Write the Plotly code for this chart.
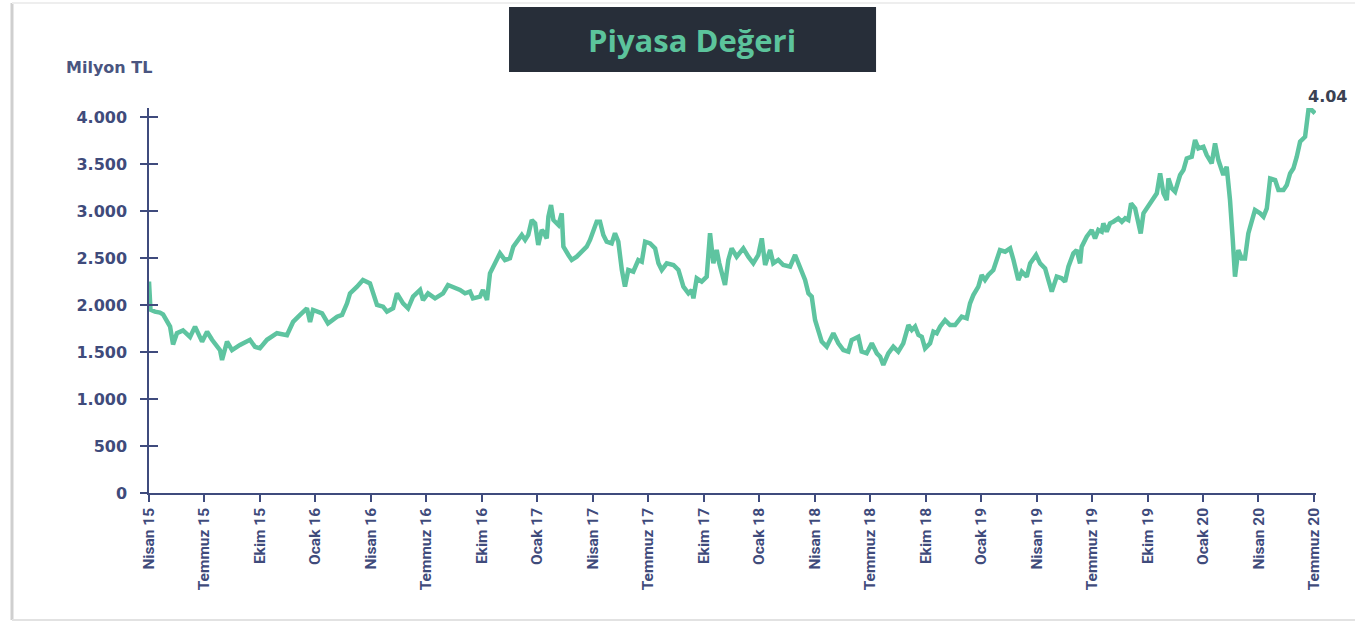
import plotly.graph_objects as go

# Quarter tick labels (month offsets from April 2015)
quarter_labels = [
    "Nisan 15", "Temmuz 15", "Ekim 15", "Ocak 16", "Nisan 16", "Temmuz 16",
    "Ekim 16", "Ocak 17", "Nisan 17", "Temmuz 17", "Ekim 17", "Ocak 18",
    "Nisan 18", "Temmuz 18", "Ekim 18", "Ocak 19", "Nisan 19", "Temmuz 19",
    "Ekim 19", "Ocak 20", "Nisan 20", "Temmuz 20",
]
quarter_months = [3 * i for i in range(len(quarter_labels))]

y_tick_values = [0, 500, 1000, 1500, 2000, 2500, 3000, 3500, 4000]
y_tick_labels = ["0", "500", "1.000", "1.500", "2.000", "2.500", "3.000", "3.500", "4.000"]

# Market value series: month offset from April 2015 and value in million TL
months_since_apr15 = [
    0.00, 0.08, 0.32, 0.59, 0.76, 1.14, 1.30, 1.51, 1.84, 2.22, 2.49, 2.87,
    3.14, 3.41, 3.84, 3.95, 4.22, 4.49, 4.92, 5.46, 5.73, 6.00, 6.38, 6.92,
    7.46, 7.79, 8.17, 8.54, 8.71, 8.87, 9.36, 9.68, 10.17, 10.44, 10.71, 10.87,
    11.25, 11.57, 11.95, 12.11, 12.33, 12.66, 12.87, 13.20, 13.41, 13.74, 14.01, 14.28,
    14.66, 14.82, 15.09, 15.47, 15.90, 16.17, 16.82, 17.09, 17.36, 17.52, 17.90, 18.06,
    18.28, 18.44, 18.71, 18.98, 19.25, 19.52, 19.70, 19.97, 20.16, 20.34, 20.51, 20.70,
    20.88, 21.05, 21.24, 21.33, 21.51, 21.60, 21.74, 21.87, 22.14, 22.32, 22.41, 22.68,
    22.86, 23.13, 23.40, 23.67, 23.85, 24.03, 24.21, 24.39, 24.57, 24.75, 25.02, 25.20,
    25.38, 25.57, 25.74, 25.92, 26.19, 26.46, 26.65, 26.83, 27.10, 27.37, 27.55, 27.73,
    28.00, 28.36, 28.63, 28.90, 29.17, 29.35, 29.44, 29.62, 29.89, 30.16, 30.34, 30.52,
    30.70, 30.84, 31.15, 31.33, 31.51, 31.78, 32.14, 32.41, 32.68, 32.95, 33.14, 33.32,
    33.59, 33.76, 34.03, 34.30, 34.67, 34.94, 35.21, 35.48, 35.66, 35.84, 36.02, 36.20,
    36.38, 36.65, 37.01, 37.28, 37.55, 37.82, 38.00, 38.36, 38.54, 38.81, 39.09, 39.36,
    39.54, 39.71, 39.98, 40.25, 40.52, 40.79, 41.07, 41.25, 41.43, 41.61, 41.79, 41.97,
    42.24, 42.42, 42.60, 42.78, 43.05, 43.32, 43.59, 43.95, 44.22, 44.40, 44.58, 44.85,
    45.03, 45.21, 45.39, 45.66, 45.85, 46.02, 46.30, 46.57, 46.75, 47.01, 47.20, 47.47,
    47.65, 47.97, 48.19, 48.46, 48.64, 48.82, 49.09, 49.36, 49.54, 49.72, 49.99, 50.17,
    50.35, 50.44, 50.71, 50.98, 51.16, 51.34, 51.52, 51.61, 51.79, 51.97, 52.15, 52.42,
    52.61, 52.79, 52.96, 53.11, 53.33, 53.50, 53.63, 53.78, 53.96, 54.23, 54.50, 54.68,
    54.86, 55.04, 55.13, 55.31, 55.49, 55.76, 55.94, 56.12, 56.39, 56.57, 56.75, 57.02,
    57.20, 57.47, 57.65, 57.83, 58.01, 58.10, 58.28, 58.46, 58.61, 58.73, 58.91, 59.09,
    59.27, 59.45, 59.63, 59.81, 60.09, 60.27, 60.45, 60.63, 60.90, 61.08, 61.35, 61.53,
    61.71, 61.89, 62.07, 62.25, 62.52, 62.70, 62.88, 63.06,
]
market_value_mn_tl = [
    2250, 1950, 1930, 1920, 1900, 1770, 1580, 1700, 1730, 1660, 1770, 1610,
    1716, 1630, 1520, 1415, 1610, 1520, 1575, 1630, 1555, 1540, 1630, 1700,
    1680, 1820, 1895, 1965, 1820, 1947, 1911, 1804, 1876, 1894, 2018, 2124,
    2195, 2266, 2230, 2124, 2000, 1982, 1929, 1965, 2124, 2018, 1965, 2089,
    2160, 2053, 2124, 2071, 2124, 2213, 2160, 2124, 2142, 2071, 2089, 2160,
    2053, 2337, 2440, 2550, 2479, 2497, 2621, 2692, 2745, 2692, 2745, 2904,
    2869, 2639, 2798, 2780, 2709, 2940, 3064, 2904, 2851, 2975, 2621, 2532,
    2479, 2514, 2568, 2621, 2692, 2798, 2887, 2887, 2745, 2674, 2656, 2763,
    2674, 2373, 2195, 2373, 2355, 2479, 2461, 2674, 2656, 2603, 2444, 2373,
    2444, 2426, 2373, 2195, 2124, 2160, 2071, 2284, 2249, 2302, 2763, 2444,
    2585, 2444, 2213, 2479, 2603, 2514, 2603, 2514, 2444, 2532, 2709, 2426,
    2585, 2444, 2479, 2426, 2408, 2532, 2390, 2266, 2124, 2089, 1841, 1734,
    1610, 1557, 1699, 1592, 1521, 1504, 1628, 1663, 1504, 1486, 1592, 1486,
    1450, 1362, 1486, 1557, 1504, 1592, 1787, 1734, 1770, 1681, 1663, 1539,
    1592, 1716, 1699, 1770, 1840, 1787, 1787, 1876, 1858, 2018, 2106, 2195,
    2319, 2266, 2319, 2372, 2479, 2585, 2567, 2603, 2479, 2266, 2355, 2302,
    2443, 2532, 2443, 2390, 2266, 2142, 2302, 2284, 2248, 2408, 2550, 2585,
    2443, 2621, 2727, 2798, 2709, 2798, 2780, 2869, 2780, 2869, 2886, 2922,
    2886, 2922, 2904, 3081, 3028, 2869, 2762, 2975, 3028, 3117, 3188, 3400,
    3188, 3117, 3347, 3241, 3205, 3383, 3436, 3560, 3578, 3755, 3666, 3684,
    3595, 3507, 3720, 3542, 3454, 3383, 3471, 3117, 2691, 2301, 2585, 2496,
    2496, 2762, 2886, 3010, 2975, 2939, 3028, 3347, 3330, 3223, 3223, 3276,
    3400, 3454, 3578, 3737, 3790, 4074, 4074, 4040,
]

LINE_COLOR = "#5ec4a0"
AXIS_COLOR = "#3f4b7d"
LABEL_COLOR = "#3f4b7b"
BOLD_FONT = "DejaVu Sans, Liberation Sans, Arial, sans-serif"
NARROW_FONT = "Roboto, Liberation Sans, sans-serif"

Y_MAX = 4096
X_MAX = 63.11

fig = go.Figure()
fig.add_trace(go.Scatter(
    x=months_since_apr15,
    y=market_value_mn_tl,
    mode="lines",
    line=dict(color=LINE_COLOR, width=4.5),
    hoverinfo="skip",
    showlegend=False,
))
# helper trace that carries the inner half of the cross-shaped y ticks
fig.add_trace(go.Scatter(
    x=[0], y=[0], yaxis="y2", mode="markers",
    marker=dict(opacity=0), hoverinfo="skip", showlegend=False,
))

last_x = months_since_apr15[-1]
last_v = market_value_mn_tl[-1]

fig.update_layout(
    width=1355,
    height=622,
    margin=dict(l=149, r=39, t=108, b=129),
    paper_bgcolor="white",
    plot_bgcolor="white",
    xaxis=dict(
        range=[0, X_MAX],
        tickmode="array",
        tickvals=quarter_months,
        ticktext=quarter_labels,
        tickangle=-90,
        ticks="outside",
        ticklen=7,
        tickwidth=1.5,
        tickcolor=AXIS_COLOR,
        showline=True,
        linecolor=AXIS_COLOR,
        linewidth=1.5,
        showgrid=False,
        zeroline=False,
        tickfont=dict(family=NARROW_FONT, size=15.5, color=LABEL_COLOR, weight="bold"),
    ),
    yaxis=dict(
        range=[0, Y_MAX],
        tickmode="array",
        tickvals=y_tick_values,
        ticktext=y_tick_labels,
        ticks="outside",
        ticklen=7,
        tickwidth=1.5,
        tickcolor=AXIS_COLOR,
        showline=True,
        linecolor=AXIS_COLOR,
        linewidth=1.5,
        showgrid=False,
        zeroline=False,
        ticklabelstandoff=10,
        tickfont=dict(family=BOLD_FONT, size=16, color=LABEL_COLOR, weight="bold"),
    ),
    yaxis2=dict(
        range=[0, Y_MAX],
        overlaying="y",
        side="left",
        tickmode="array",
        tickvals=y_tick_values,
        ticks="inside",
        ticklen=9,
        tickwidth=1.5,
        tickcolor=AXIS_COLOR,
        showticklabels=False,
        showline=False,
        showgrid=False,
        zeroline=False,
    ),
    shapes=[
        # title box
        dict(type="rect", xref="paper", yref="paper",
             x0=0.3085, x1=0.623, y0=1.0935, y1=1.2623,
             fillcolor="#272e39", line=dict(width=0), layer="below"),
        # card frame
        dict(type="line", xref="paper", yref="paper",
             x0=-0.1174, x1=-0.1174, y0=-0.3299, y1=1.2727,
             line=dict(color="#cfcfcf", width=3)),
        dict(type="line", xref="paper", yref="paper",
             x0=-0.1174, x1=1.0334, y0=1.2727, y1=1.2727,
             line=dict(color="#eeeeee", width=2)),
        dict(type="line", xref="paper", yref="paper",
             x0=-0.1174, x1=1.0334, y0=-0.3299, y1=-0.3299,
             line=dict(color="#e2e2e2", width=2)),
    ],
    annotations=[
        dict(text="Piyasa Değeri", xref="paper", yref="paper",
             x=0.4653, y=1.1766, xanchor="center", yanchor="middle",
             showarrow=False,
             font=dict(family="Open Sans, Noto Sans, sans-serif", size=31,
                       color="#5cc49c", weight="bold")),
        dict(text="Milyon TL", xref="paper", yref="paper",
             x=-0.0728, y=1.1039, xanchor="left", yanchor="middle",
             showarrow=False,
             font=dict(family=BOLD_FONT, size=16, color="#4a5580", weight="bold")),
        dict(text=f"{last_v / 1000:.2f}", x=last_x, y=last_v,
             xref="x", yref="y", xanchor="left", yanchor="bottom",
             xshift=-9, yshift=5, showarrow=False,
             font=dict(family=BOLD_FONT, size=16, color="#3a4152", weight="bold")),
    ],
)

fig.write_html("out.html", config={"displayModeBar": False})
